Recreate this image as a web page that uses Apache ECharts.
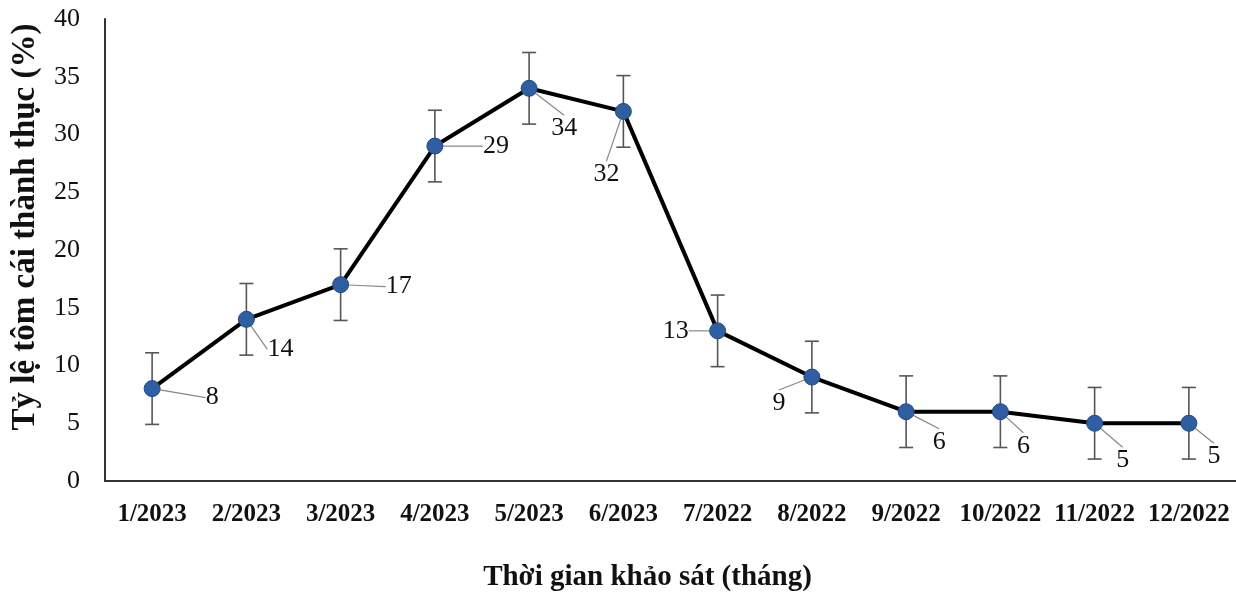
<!DOCTYPE html>
<html>
<head>
<meta charset="utf-8">
<script src="https://cdn.jsdelivr.net/npm/echarts@6/dist/echarts.min.js"></script>
<style>
html,body{margin:0;padding:0;background:#fff;}
#c{width:1236px;height:597px;}
</style>
</head>
<body>
<div id="c"></div>
<script>
const categories = ['1/2023','2/2023','3/2023','4/2023','5/2023','6/2023','7/2022','8/2022','9/2022','10/2022','11/2022','12/2022'];
const values = [8, 14, 17, 29, 34, 32, 13, 9, 6, 6, 5, 5];
const errors = [3.1, 3.1, 3.1, 3.1, 3.1, 3.1, 3.1, 3.1, 3.1, 3.1, 3.1, 3.1];
const yTicks = [0, 5, 10, 15, 20, 25, 30, 35, 40];
const xTitle = 'Thời gian khảo sát (tháng)';
const yTitle = 'Tỷ lệ tôm cái thành thục (%)';

// label placement offsets (style only)
const labelOffsets = [[60,9],[34,30],[58,2],[61,0],[35,40],[-17,63],[-42,0],[-33,26],[33,30],[23,34],[28,37],[25,33]];

const chart = echarts.init(document.getElementById('c'), null, {renderer:'canvas'});
const serif = "'Liberation Serif','Times New Roman',serif";

chart.setOption({
  animation: false,
  backgroundColor: '#fff',
  grid: {left: 105, top: 19, width: 1136, bottom: 114, containLabel: false},
  xAxis: {
    type: 'category',
    data: categories,
    boundaryGap: true,
    axisLine: {lineStyle: {color: '#333', width: 2}},
    axisTick: {show: false},
    axisLabel: {interval: 0, fontFamily: serif, fontWeight: 'bold', fontSize: 25, color: '#111', margin: 21},
    name: xTitle,
    nameLocation: 'middle',
    nameGap: 82,
    nameTextStyle: {fontFamily: serif, fontWeight: 'bold', fontSize: 29, color: '#111', padding: [0, 46, 0, 0]}
  },
  yAxis: {
    type: 'value',
    min: yTicks[0],
    max: yTicks[yTicks.length - 1],
    interval: yTicks[1] - yTicks[0],
    splitLine: {show: false},
    axisLine: {show: true, lineStyle: {color: '#333', width: 2}},
    axisTick: {show: false},
    axisLabel: {fontFamily: serif, fontSize: 26, color: '#111', margin: 25},
    name: yTitle,
    nameLocation: 'middle',
    nameGap: 63,
    nameTextStyle: {fontFamily: serif, fontWeight: 'bold', fontSize: 33, color: '#111', padding: [0, 0, 0, 46]}
  },
  series: [
    {
      type: 'custom',
      z: 3,
      renderItem: function (params, api) {
        const i = api.value(0);
        const v = api.value(1);
        const e = api.value(2);
        const top = api.coord([i, v + e]);
        const bot = api.coord([i, v - e]);
        const hw = 7;
        const style = {stroke: '#555', lineWidth: 1.6};
        return {
          type: 'group',
          children: [
            {type: 'line', shape: {x1: top[0], y1: top[1], x2: bot[0], y2: bot[1]}, style: style},
            {type: 'line', shape: {x1: top[0]-hw, y1: top[1], x2: top[0]+hw, y2: top[1]}, style: style},
            {type: 'line', shape: {x1: bot[0]-hw, y1: bot[1], x2: bot[0]+hw, y2: bot[1]}, style: style}
          ]
        };
      },
      data: values.map((v, i) => [i, v, errors[i]])
    },
    {
      type: 'line',
      z: 4,
      data: values,
      symbol: 'circle',
      symbolSize: 16,
      lineStyle: {color: '#000', width: 4},
      itemStyle: {color: '#2f5fa2', borderColor: '#234b80', borderWidth: 1},
      label: {
        show: true,
        position: 'inside',
        fontFamily: serif,
        fontSize: 26,
        color: '#111'
      },
      labelLine: {show: true, lineStyle: {color: '#888', width: 1.2}},
      labelLayout: function (params) {
        const o = labelOffsets[params.dataIndex];
        return {dx: o[0], dy: o[1]};
      }
    }
  ]
});
</script>
</body>
</html>
